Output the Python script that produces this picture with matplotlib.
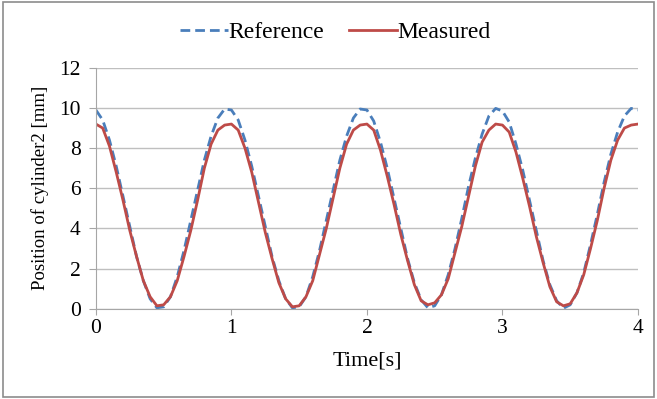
import matplotlib
matplotlib.use('Agg')
import matplotlib.pyplot as plt
from matplotlib.patches import Rectangle

plt.rcParams['font.family'] = ['Liberation Serif', 'DejaVu Serif']

# time axis, 0.05 s steps
time = [i * 0.05 for i in range(81)]

reference = [9.9, 9.4, 8.4, 7.1, 5.6, 4.1, 2.6, 1.4, 0.5, 0.05,
             0.1, 0.6, 1.6, 2.9, 4.4, 5.9, 7.4, 8.6, 9.5, 9.95,
             9.9, 9.4, 8.4, 7.1, 5.6, 4.1, 2.6, 1.4, 0.5, 0.05,
             0.1, 0.6, 1.6, 2.9, 4.4, 5.9, 7.4, 8.6, 9.5, 9.95,
             9.9, 9.35, 8.3, 7.0, 5.5, 4.0, 2.5, 1.3, 0.45, 0.05,
             0.15, 0.7, 1.7, 3.0, 4.5, 6.1, 7.5, 8.7, 9.6, 9.98,
             9.85, 9.3, 8.2, 6.9, 5.4, 3.9, 2.4, 1.2, 0.4, 0.03,
             0.2, 0.8, 1.8, 3.2, 4.7, 6.3, 7.7, 8.8, 9.6, 9.98, 9.9]

measured = [9.2, 9.0, 8.1, 6.8, 5.4, 3.9, 2.6, 1.4, 0.6, 0.15,
            0.2, 0.6, 1.4, 2.6, 3.9, 5.4, 7.0, 8.2, 8.9, 9.15,
            9.2, 8.9, 8.0, 6.8, 5.3, 3.8, 2.5, 1.3, 0.5, 0.1,
            0.15, 0.6, 1.4, 2.7, 4.0, 5.5, 7.0, 8.2, 8.9, 9.15,
            9.2, 8.9, 7.9, 6.6, 5.2, 3.7, 2.4, 1.2, 0.4, 0.2,
            0.3, 0.7, 1.5, 2.8, 4.1, 5.6, 7.1, 8.3, 8.9, 9.2,
            9.15, 8.8, 7.8, 6.5, 5.1, 3.6, 2.3, 1.1, 0.35, 0.15,
            0.25, 0.8, 1.7, 3.0, 4.4, 6.0, 7.4, 8.4, 9.0, 9.15, 9.2]

fig = plt.figure(figsize=(6.57, 3.99), dpi=100)
fig.patches.append(Rectangle((0.004, 0.006), 0.992, 0.988, transform=fig.transFigure,
                             fill=False, edgecolor='#8c8c8c', linewidth=1.2))

ax = fig.add_axes([0.146, 0.226, 0.825, 0.604])
ax.plot(time, reference, color='#4a7ebb', lw=2, linestyle=(0, (3.5, 1.8)), label='Reference')
ax.plot(time, measured, color='#be4b48', lw=2, label='Measured')

ax.set_xlim(0, 4)
ax.set_ylim(0, 12)
ax.set_xticks([0, 1, 2, 3, 4])
ax.set_yticks(range(0, 13, 2))
ax.grid(axis='y', color='#bfbfbf', lw=1)
ax.set_axisbelow(True)
for s in ['top', 'right']:
    ax.spines[s].set_visible(False)
for s in ['left', 'bottom']:
    ax.spines[s].set_color('#a6a6a6')
ax.tick_params(colors='#a6a6a6', labelcolor='black', labelsize=15.5, length=5)
ax.tick_params(axis='y', pad=6)
ax.tick_params(axis='x', length=4, pad=3)

ax.set_xlabel('Time[s]', fontsize=16, labelpad=10)
ax.set_ylabel('Position of cylinder2 [mm]', fontsize=13.5, labelpad=7)

fig.legend(loc='center', bbox_to_anchor=(0.511, 0.918), ncol=2, frameon=False,
           fontsize=17, handlelength=2.0, handletextpad=0.05, columnspacing=1.05)

fig.savefig('out.png', dpi=100)
